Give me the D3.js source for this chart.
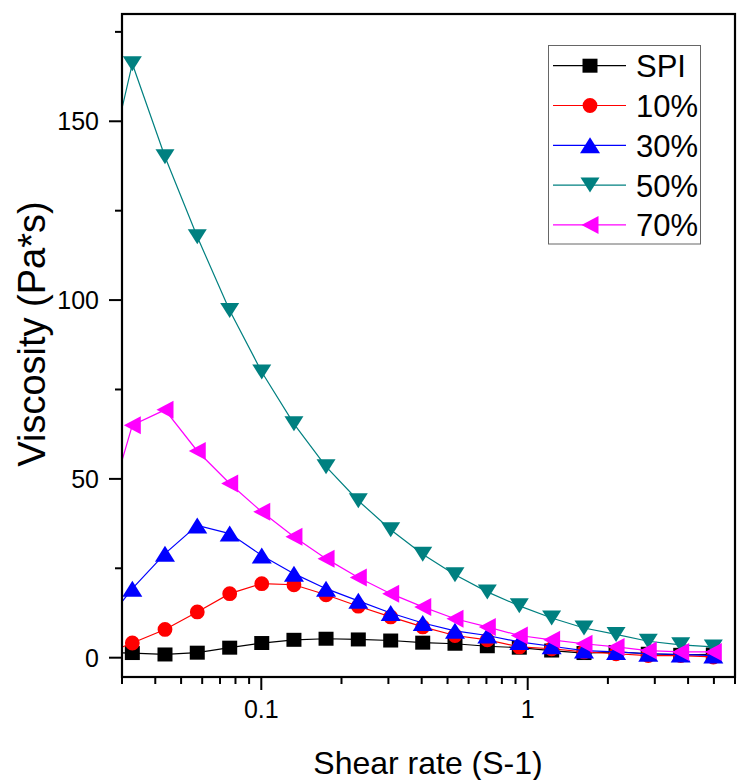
<!DOCTYPE html>
<html>
<head>
<meta charset="utf-8">
<script src="https://cdn.jsdelivr.net/npm/d3@7"></script>
<style>
  body { margin: 0; background: #fff; }
  svg { display: block; font-family: Arial, "Liberation Sans", sans-serif; }
</style>
</head>
<body>
<div id="chart-container"></div>
<script>
/**************************************************
 * Data
 **************************************************/

// shear rate (1/s); first point sits left of the axis and is clipped
const shearRate = [0.0248, 0.0328, 0.0435, 0.0575, 0.0761, 0.1004, 0.1326, 0.175, 0.2313, 0.306,
  0.4036, 0.5334, 0.7053, 0.930, 1.230, 1.627, 2.146, 2.835, 3.753, 4.975];

const spi = [1.5, 1.3, 0.9, 1.4, 2.8, 4.1, 5.0, 5.3, 5.1, 4.8,
  4.2, 3.9, 3.2, 2.8, 2.0, 1.3, 1.6, 1.1, 0.8, 0.9];
const pct10 = [0.6, 4.1, 7.9, 12.8, 17.9, 20.7, 20.4, 17.6, 14.4, 11.4,
  8.6, 6.2, 5.0, 3.0, 2.5, 1.6, 1.1, 0.6, 0.6, 0.2];
const pct30 = [7.8, 19.3, 29.1, 37.0, 34.7, 28.6, 23.5, 19.3, 15.9, 12.5,
  9.7, 7.5, 6.2, 4.4, 3.2, 2.0, 1.6, 1.1, 0.9, 0.6];
const pct50 = [127, 166.1, 140.1, 117.7, 97.1, 79.9, 65.4, 53.4, 43.9, 35.8,
  28.9, 23.2, 18.4, 14.5, 11.1, 8.3, 6.5, 4.6, 3.6, 3.0];
const pct70 = [34, 65.0, 69.3, 57.8, 48.7, 40.8, 33.8, 27.7, 22.4, 17.9,
  14.2, 10.9, 8.6, 6.2, 5.0, 3.9, 3.0, 2.0, 1.6, 1.6];

const seriesNames = ["SPI", "10%", "30%", "50%", "70%"];
const seriesValues = [spi, pct10, pct30, pct50, pct70];
const seriesColors = ["#000000", "#ff0000", "#0000ff", "#008080", "#ff00ff"];
const seriesMarkers = ["square", "circle", "up", "down", "left"];

const yTickValues = [0, 50, 100, 150];
const xTickLabels = [0.1, 1];

/**************************************************
 * Helpers
 **************************************************/

function markerPath(type) {
  if (type === "square") return "M-7.5,-7L7.5,-7L7.5,7L-7.5,7Z";
  if (type === "circle") return d3.symbol(d3.symbolCircle, Math.PI * 7.4 * 7.4)();
  if (type === "up") return "M0,-8L10,8L-10,8Z";
  if (type === "down") return "M-9.5,-7.5L9.5,-7.5L0,7.5Z";
  if (type === "left") return "M-8.5,0L8.5,-9L8.5,9Z";
}

/**************************************************
 * Rendering
 **************************************************/

function renderChart() {
  const width = 737, height = 780;
  const plotLeft = 122, plotRight = 735, plotTop = 14, plotBottom = 677;

  const svg = d3.select("#chart-container")
    .append("svg")
    .attr("width", width)
    .attr("height", height);

  svg.append("rect")
    .attr("width", width)
    .attr("height", height)
    .attr("fill", "#fff");

  const x = d3.scaleLog()
    .domain([0.03, 6])
    .range([plotLeft, plotRight]);

  const y = d3.scaleLinear()
    .domain([-5.4, 180])
    .range([plotBottom, plotTop]);

  svg.append("defs").append("clipPath")
    .attr("id", "plot-clip")
    .append("rect")
    .attr("x", plotLeft)
    .attr("y", plotTop)
    .attr("width", plotRight - plotLeft)
    .attr("height", plotBottom - plotTop);

  const plot = svg.append("g").attr("clip-path", "url(#plot-clip)");

  const line = d3.line()
    .x(d => x(d[0]))
    .y(d => y(d[1]));

  // draw series in legend order so later ones sit on top
  seriesValues.forEach((vals, s) => {
    const pts = shearRate.map((r, i) => [r, vals[i]]);
    plot.append("path")
      .attr("d", line(pts))
      .attr("fill", "none")
      .attr("stroke", seriesColors[s])
      .attr("stroke-width", 1.2);

    plot.selectAll(null)
      .data(pts)
      .enter()
      .append("path")
      .attr("d", markerPath(seriesMarkers[s]))
      .attr("transform", d => `translate(${x(d[0])},${y(d[1])})`)
      .attr("fill", seriesColors[s]);
  });

  // frame
  svg.append("rect")
    .attr("x", plotLeft)
    .attr("y", plotTop)
    .attr("width", plotRight - plotLeft)
    .attr("height", plotBottom - plotTop)
    .attr("fill", "none")
    .attr("stroke", "#000")
    .attr("stroke-width", 2.2);

  // y axis ticks
  const yMinor = d3.range(0, 180, 25);
  yMinor.forEach(v => {
    const major = v % 50 === 0;
    svg.append("line")
      .attr("x1", plotLeft)
      .attr("x2", plotLeft - (major ? 13 : 7))
      .attr("y1", y(v))
      .attr("y2", y(v))
      .attr("stroke", "#000")
      .attr("stroke-width", 2);
  });
  yTickValues.forEach(v => {
    svg.append("text")
      .attr("x", 99)
      .attr("y", y(v))
      .attr("dy", "0.36em")
      .attr("text-anchor", "end")
      .attr("font-size", "25px")
      .text(v);
  });

  // x axis ticks (log)
  const xTicks = x.ticks(20).filter(t => t >= 0.03 && t <= 6.001);
  xTicks.forEach(t => {
    const major = xTickLabels.indexOf(t) >= 0;
    svg.append("line")
      .attr("x1", x(t))
      .attr("x2", x(t))
      .attr("y1", plotBottom)
      .attr("y2", plotBottom + (major ? 13 : 7))
      .attr("stroke", "#000")
      .attr("stroke-width", 2);
  });
  xTickLabels.forEach(t => {
    svg.append("text")
      .attr("x", x(t))
      .attr("y", 718)
      .attr("text-anchor", "middle")
      .attr("font-size", "25px")
      .text(t);
  });

  // axis titles
  svg.append("text")
    .attr("x", 428)
    .attr("y", 774)
    .attr("text-anchor", "middle")
    .attr("font-size", "32px")
    .text("Shear rate (S-1)");

  svg.append("text")
    .attr("transform", "translate(45,334) rotate(-90)")
    .attr("text-anchor", "middle")
    .attr("font-size", "38px")
    .text("Viscosity (Pa*s)");

  // legend
  const legend = svg.append("g");
  legend.append("rect")
    .attr("x", 548.5)
    .attr("y", 45.5)
    .attr("width", 152)
    .attr("height", 198.5)
    .attr("fill", "#fff")
    .attr("stroke", "#666")
    .attr("stroke-width", 1);

  seriesNames.forEach((name, s) => {
    const ly = 65.7 + s * 39.8;
    legend.append("line")
      .attr("x1", 553)
      .attr("x2", 626)
      .attr("y1", ly)
      .attr("y2", ly)
      .attr("stroke", seriesColors[s])
      .attr("stroke-width", 1.2);
    legend.append("path")
      .attr("d", markerPath(seriesMarkers[s]))
      .attr("transform", `translate(590,${ly})`)
      .attr("fill", seriesColors[s]);
    legend.append("text")
      .attr("x", 636)
      .attr("y", ly + 11.5)
      .attr("font-size", "31px")
      .text(name);
  });
}

renderChart();
</script>
</body>
</html>
